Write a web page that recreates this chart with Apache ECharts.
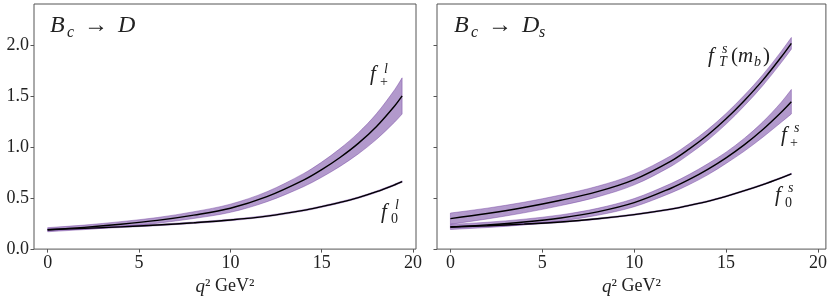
<!DOCTYPE html>
<html><head><meta charset="utf-8">
<script src="https://cdn.jsdelivr.net/npm/echarts@6/dist/echarts.min.js"></script>
<style>html,body{margin:0;padding:0;background:#fff}#c{width:830px;height:301px}</style>
</head><body><div id="c"></div>
<script>
// ---------- data ----------
const xTicks = [0, 5, 10, 15, 20];
const yTicks = [0, 0.5, 1.0, 1.5, 2.0];

// Left panel: B_c -> D
const qL = [0, 2, 4, 6, 8, 10, 12, 14, 15, 16, 17, 18, 19, 19.4];
const fPlusL   = [0.19, 0.213, 0.243, 0.281, 0.333, 0.40, 0.513, 0.675, 0.778, 0.897, 1.035, 1.201, 1.404, 1.50];
const fPlusLlo = [0.170, 0.191, 0.218, 0.253, 0.300, 0.360, 0.464, 0.611, 0.704, 0.810, 0.932, 1.075, 1.245, 1.323];
const fPlusLhi = [0.210, 0.235, 0.269, 0.309, 0.366, 0.440, 0.562, 0.739, 0.852, 0.984, 1.138, 1.327, 1.563, 1.677];
const fZeroL   = [0.19, 0.203, 0.218, 0.236, 0.258, 0.285, 0.323, 0.379, 0.416, 0.457, 0.504, 0.562, 0.630, 0.661];
const fZeroLlo = [0.183, 0.196, 0.211, 0.229, 0.251, 0.278, 0.316, 0.372, 0.409, 0.450, 0.497, 0.555, 0.623, 0.654];
const fZeroLhi = [0.197, 0.210, 0.225, 0.243, 0.265, 0.292, 0.330, 0.386, 0.423, 0.464, 0.511, 0.569, 0.637, 0.668];

// Right panel: B_c -> D_s
const qR = [0, 2, 4, 6, 8, 10, 12, 13, 14, 15, 16, 17, 18, 18.55];
const fTR    = [0.298, 0.348, 0.407, 0.478, 0.563, 0.681, 0.862, 0.982, 1.118, 1.276, 1.456, 1.655, 1.881, 2.015];
const fTRlo  = [0.243, 0.295, 0.355, 0.426, 0.511, 0.629, 0.810, 0.930, 1.066, 1.224, 1.404, 1.602, 1.826, 1.958];
const fTRhi  = [0.353, 0.401, 0.459, 0.530, 0.615, 0.733, 0.914, 1.034, 1.170, 1.328, 1.508, 1.708, 1.936, 2.072];
const fPlusR   = [0.217, 0.237, 0.265, 0.305, 0.365, 0.455, 0.596, 0.682, 0.781, 0.894, 1.023, 1.171, 1.340, 1.443];
const fPlusRlo = [0.192, 0.211, 0.237, 0.275, 0.331, 0.415, 0.550, 0.632, 0.727, 0.839, 0.960, 1.096, 1.242, 1.323];
const fPlusRhi = [0.242, 0.263, 0.293, 0.335, 0.399, 0.495, 0.642, 0.732, 0.835, 0.949, 1.086, 1.246, 1.438, 1.563];
const fZeroR   = [0.217, 0.229, 0.245, 0.266, 0.297, 0.338, 0.391, 0.428, 0.468, 0.517, 0.572, 0.632, 0.698, 0.737];
const fZeroRlo = [0.211, 0.223, 0.239, 0.260, 0.291, 0.332, 0.385, 0.422, 0.462, 0.511, 0.566, 0.626, 0.692, 0.731];
const fZeroRhi = [0.223, 0.235, 0.251, 0.272, 0.303, 0.344, 0.397, 0.434, 0.474, 0.523, 0.578, 0.638, 0.704, 0.743];

// ---------- styling ----------
const SERIF = '"Liberation Serif", "DejaVu Serif", serif';
const FRAME = '#555';
const TXT = '#222';
const BAND = 'rgba(102,51,153,0.5)';

function pairs(q, v) { return q.map((x, i) => [x, v[i]]); }

// Hermite (Catmull-Rom in q) spline through pixel points p, parameter q
function splineSegs(p, q) {
  const n = p.length, tan = [];
  for (let i = 0; i < n; i++) {
    const a = Math.max(0, i - 1), b = Math.min(n - 1, i + 1);
    tan.push([(p[b][0] - p[a][0]) / (q[b] - q[a]), (p[b][1] - p[a][1]) / (q[b] - q[a])]);
  }
  let d = '';
  for (let i = 0; i < n - 1; i++) {
    const h = (q[i + 1] - q[i]) / 3;
    const c1 = [p[i][0] + tan[i][0] * h, p[i][1] + tan[i][1] * h];
    const c2 = [p[i + 1][0] - tan[i + 1][0] * h, p[i + 1][1] - tan[i + 1][1] * h];
    d += ' C' + c1[0] + ' ' + c1[1] + ' ' + c2[0] + ' ' + c2[1] + ' ' + p[i + 1][0] + ' ' + p[i + 1][1];
  }
  return d;
}
function bandSeries(idx, q, lo, hi) {
  return {
    type: 'custom', xAxisIndex: idx, yAxisIndex: idx, silent: true, z: 1,
    data: q.map((x, i) => [x, lo[i], hi[i]]),
    renderItem: function (params, api) {
      if (params.dataIndex !== 0) return null;
      const up = q.map((x, i) => api.coord([x, hi[i]]));
      const dn = q.map((x, i) => api.coord([x, lo[i]])).reverse();
      const qr = q.slice().reverse();
      const d = 'M' + up[0][0] + ' ' + up[0][1] + splineSegs(up, q) +
        ' L' + dn[0][0] + ' ' + dn[0][1] + splineSegs(dn, qr.map(v => -v)) + ' Z';
      return { type: 'path', shape: { pathData: d }, style: { fill: BAND, stroke: BAND, lineWidth: 0.8 } };
    }
  };
}
function centralLine(idx, q, v) {
  return { type: 'line', xAxisIndex: idx, yAxisIndex: idx, data: pairs(q, v), symbol: 'none', smooth: 0.35,
    lineStyle: { color: '#000', width: 1.4 }, silent: true, z: 3 };
}

function xAxis(idx, min, max) {
  return {
    type: 'value', gridIndex: idx, min: min, max: max,
    axisLine: { show: false, onZero: false },
    axisTick: { show: true, inside: false, length: 3.5, lineStyle: { color: FRAME, width: 1 }, customValues: xTicks },
    axisLabel: { customValues: xTicks, color: TXT, fontFamily: SERIF, fontSize: 18, margin: 5 },
    splitLine: { show: false },
    name: '{i|q}² GeV²', nameLocation: 'middle', nameGap: 13,
    nameTextStyle: { color: TXT, fontFamily: SERIF, fontSize: 18, rich: { i: { fontStyle: 'italic', fontFamily: SERIF, fontSize: 19, color: TXT } } }
  };
}
function yAxis(idx, showLabels) {
  return {
    type: 'value', gridIndex: idx, min: 0, max: 2.4,
    axisLine: { show: false, onZero: false },
    axisTick: { show: true, inside: false, length: 3.5, lineStyle: { color: FRAME, width: 1 }, customValues: yTicks },
    axisLabel: { show: showLabels, customValues: yTicks, color: TXT, fontFamily: SERIF, fontSize: 18, margin: 5,
      formatter: v => v.toFixed(1) },
    splitLine: { show: false }
  };
}

// text helper: (x, baseline)
function t(x, base, str, size, italic) {
  return { type: 'text', x: x, y: base - 0.33 * size, silent: true, z: 10,
    style: { text: str, fill: TXT, font: (italic ? 'italic ' : '') + size + 'px ' + SERIF, verticalAlign: 'middle', align: 'left' } };
}

const graphics = [
  // titles
  t(50, 34, 'B', 24, true), t(67, 38, 'c', 16, true), t(84, 34, '→', 24, false), t(118, 34, 'D', 24, true),
  t(454, 34, 'B', 24, true), t(471, 38, 'c', 16, true), t(488, 34, '→', 24, false), t(522, 34, 'D', 24, true), t(539, 38, 's', 16, true),
  // f_+^l
  t(370, 81, 'f', 21, true), t(384, 74, 'l', 14, true), t(380, 87, '+', 14, false),
  // f_0^l
  t(381, 219, 'f', 21, true), t(395, 210, 'l', 14, true), t(391, 224, '0', 14, false),
  // f_T^s(m_b)
  t(708, 63, 'f', 21, true), t(722, 54, 's', 14, true), t(719, 67, 'T', 14, true),
  t(731, 63, '(', 21, false), t(738, 63, 'm', 21, true), t(754, 67, 'b', 14, true), t(763, 63, ')', 21, false),
  // f_+^s
  t(781, 142, 'f', 21, true), t(794, 133, 's', 14, true), t(790, 148, '+', 14, false),
  // f_0^s
  t(775, 202, 'f', 21, true), t(788, 193, 's', 14, true), t(785, 208, '0', 14, false)
];

const option = {
  animation: false,
  backgroundColor: '#fff',
  grid: [
    { left: 34, top: 4, width: 382, height: 247, show: true, borderColor: FRAME, borderWidth: 1, backgroundColor: 'transparent' },
    { left: 437, top: 4, width: 389, height: 247, show: true, borderColor: FRAME, borderWidth: 1, backgroundColor: 'transparent' }
  ],
  xAxis: [xAxis(0, -0.75, 20.16), xAxis(1, -0.73, 20.43)],
  yAxis: [yAxis(0, true), yAxis(1, false)],
  series: [
    bandSeries(0, qL, fPlusLlo, fPlusLhi),
    bandSeries(0, qL, fZeroLlo, fZeroLhi),
    centralLine(0, qL, fPlusL),
    centralLine(0, qL, fZeroL),
    bandSeries(1, qR, fTRlo, fTRhi),
    bandSeries(1, qR, fPlusRlo, fPlusRhi),
    bandSeries(1, qR, fZeroRlo, fZeroRhi),
    centralLine(1, qR, fTR),
    centralLine(1, qR, fPlusR),
    centralLine(1, qR, fZeroR)
  ],
  graphic: graphics
};
const chart = echarts.init(document.getElementById('c'));
chart.setOption(option);
</script>
</body></html>
